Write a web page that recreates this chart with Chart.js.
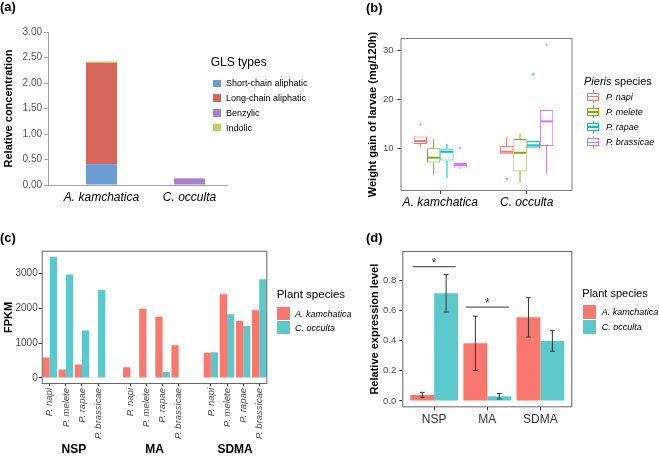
<!DOCTYPE html>
<html>
<head>
<meta charset="utf-8">
<title>Glucosinolates and Pieris larvae</title>
<script src="https://cdn.jsdelivr.net/npm/chart.js@4.4.1/dist/chart.umd.min.js"></script>
<style>
  html, body { margin: 0; padding: 0; background: #fff; }
  #page { position: relative; width: 659px; height: 456px; overflow: hidden; font-family: "Liberation Sans", Arial, sans-serif; color: #000; }
  #page canvas { position: absolute; left: 0; top: 0; }
  .txt { position: absolute; white-space: nowrap; line-height: 1.15; transform: translateY(-50%); }
  .shape { position: absolute; box-sizing: border-box; }
</style>
</head>
<body>
<div id="page">
  <canvas id="chartA" width="659" height="456"></canvas>
  <canvas id="chartB" width="659" height="456"></canvas>
  <canvas id="chartC" width="659" height="456"></canvas>
  <canvas id="chartD" width="659" height="456"></canvas>
</div>
<script>
// --- Data ---
const plants = ['A. kamchatica', 'C. occulta'];

// (a) glucosinolate content
const glsTypes = ['Short-chain aliphatic', 'Long-chain aliphatic', 'Benzylic', 'Indolic'];
const shortChain = [0.41, 0];
const longChain = [1.98, 0];
const benzylic = [0, 0.13];
const indolic = [0.03, 0];
const glsTicks = [0, 0.5, 1, 1.5, 2, 2.5, 3];

// (b) larval weight gain, [min, q1, median, q3, max] per plant
const pieris = ['P. napi', 'P. melete', 'P. rapae', 'P. brassicae'];
const napiBox = [[10.3, 11.0, 11.6, 12.5, 12.5], [8.9, 8.9, 9.4, 10.6, 12.4]];
const meleteBox = [[4.8, 7.2, 8.2, 10.1, 12.0], [3.1, 5.4, 9.2, 12.0, 13.1]];
const rapaeBox = [[4.0, 7.6, 9.4, 10.0, 11.0], [10.1, 10.1, 10.7, 11.6, 11.6]];
const brassicaeBox = [[5.9, 6.2, 6.7, 7.1, 7.2], [4.9, 10.6, 15.6, 17.9, 17.9]];
const napiOut = [[14.9], [3.9]];
const meleteOut = [[], []];
const rapaeOut = [[], [25.2]];
const brassicaeOut = [[10.1], [31.2]];
const weightTicks = [10, 20, 30];

// (c) FPKM of each gene in the four Pieris species
const genes = ['NSP', 'MA', 'SDMA'];
const nspAkam = [587, 240, 385, 20];
const nspCocc = [3481, 2971, 1365, 2529];
const maAkam = [308, 1990, 1760, 942];
const maCocc = [0, 0, 173, 0];
const sdmaAkam = [721, 2404, 1635, 1942];
const sdmaCocc = [740, 1827, 1490, 2837];
const fpkmTicks = [0, 1000, 2000, 3000];

// (d) relative expression level, mean and error
const relAkam = [0.04, 0.381, 0.553];
const relAkamErr = [0.017, 0.18, 0.13];
const relCocc = [0.712, 0.031, 0.397];
const relCoccErr = [0.124, 0.018, 0.068];
const sigGenes = ['NSP', 'MA'];
const sigLevels = [0.888, 0.621];
const relTicks = [0, 0.2, 0.4, 0.6, 0.8];

// --- Styles ---
const FONT = '"Liberation Sans", Arial, sans-serif';
const glsColors = ['#6b9dd2', '#d6665c', '#a680cc', '#bdd062'];
const pierisColors = ['#F8766D', '#7CAE00', '#00BFC4', '#C77CFF'];
const plantColors = ['#f8786f', '#5bc8cc'];
Chart.defaults.font.family = FONT;

// --- Helpers ---
function baseOptions(padding) {
    return {
        responsive: false,
        animation: false,
        events: [],
        layout: { padding },
        plugins: { legend: { display: false }, tooltip: { enabled: false } },
    };
}
const setTicks = values => axis => { axis.ticks = values.map(value => ({ value })); };
const fixWidth = w => axis => { axis.width = w; };
const fixHeight = h => axis => { axis.height = h; };

// draws a full box round the plotting area (ggplot panel border)
const framePlugin = color => ({
    id: 'frame',
    afterDatasetsDraw(chart) {
        const { ctx, chartArea: a } = chart;
        ctx.save();
        ctx.strokeStyle = color;
        ctx.lineWidth = 1;
        ctx.strokeRect(a.left + 0.5, a.top + 0.5, a.right - a.left - 1, a.bottom - a.top - 1);
        ctx.restore();
    }
});

// --- (a) stacked bars ---
const glsValues = [shortChain, longChain, benzylic, indolic];
new Chart(document.getElementById('chartA'), {
    type: 'bar',
    data: {
        datasets: glsTypes.map((name, k) => ({
            label: name,
            data: plants.map((p, i) => ({ x: i + 1, y: glsValues[k][i] || null })),
            backgroundColor: glsColors[k],
            categoryPercentage: 1,
            barPercentage: 0.352,
        })),
    },
    options: {
        ...baseOptions({ left: 0, top: 32, right: 432, bottom: 246 }),
        scales: {
            x: {
                type: 'linear', stacked: true, min: 0.392, max: 2.426, offset: false,
                afterBuildTicks: setTicks([1, 2]),
                afterFit: fixHeight(25),
                grid: { drawOnChartArea: false, drawTicks: false, offset: false },
                border: { color: '#a6a6a6' },
                ticks: { callback: (v, i) => plants[i], autoSkip: false, maxRotation: 0, padding: 5,
                         color: '#000', font: { size: 12, style: 'italic' } },
            },
            y: {
                stacked: true, min: 0, max: 3,
                afterBuildTicks: setTicks(glsTicks),
                afterFit: fixWidth(48),
                grid: { drawOnChartArea: false, tickLength: 4, color: '#a6a6a6' },
                border: { color: '#a6a6a6' },
                ticks: { callback: v => v.toFixed(2), padding: 2, color: '#595959', font: { size: 10 } },
                title: { display: true, text: 'Relative concentration', color: '#000',
                         padding: { top: 2, bottom: 0 }, font: { size: 11, weight: 'bold' } },
            },
        },
    },
});

// --- (b) box plots: boxes are floating bars, whiskers drawn on the same scales ---
const boxStats = [napiBox, meleteBox, rapaeBox, brassicaeBox];
const boxOutliers = [napiOut, meleteOut, rapaeOut, brassicaeOut];
const boxPlugin = {
    id: 'boxWhiskers',
    afterDatasetsDraw(chart) {
        const { ctx, scales: { y } } = chart;
        ctx.save();
        boxStats.forEach((stats, k) => {
            ctx.strokeStyle = pierisColors[k];
            ctx.fillStyle = pierisColors[k];
            chart.getDatasetMeta(k).data.forEach((bar, i) => {
                const [lo, q1, med, q3, hi] = stats[i];
                const half = bar.width / 2;
                ctx.lineWidth = 1;
                ctx.beginPath();
                ctx.moveTo(bar.x, y.getPixelForValue(q3));
                ctx.lineTo(bar.x, y.getPixelForValue(hi));
                ctx.moveTo(bar.x, y.getPixelForValue(q1));
                ctx.lineTo(bar.x, y.getPixelForValue(lo));
                ctx.stroke();
                ctx.lineWidth = 2;
                ctx.beginPath();
                ctx.moveTo(bar.x - half + 0.5, y.getPixelForValue(med));
                ctx.lineTo(bar.x + half - 0.5, y.getPixelForValue(med));
                ctx.stroke();
                boxOutliers[k][i].forEach(v => {
                    ctx.beginPath();
                    ctx.arc(bar.x, y.getPixelForValue(v), 1, 0, Math.PI * 2);
                    ctx.fill();
                });
            });
        });
        ctx.restore();
    }
};

new Chart(document.getElementById('chartB'), {
    type: 'bar',
    data: {
        datasets: pieris.map((name, k) => ({
            label: name,
            data: plants.map((p, i) => ({ x: i + 1, y: [boxStats[k][i][1], boxStats[k][i][3]] })),
            backgroundColor: '#fff',
            borderColor: pierisColors[k],
            borderWidth: 1,
            borderSkipped: false,
            categoryPercentage: 0.615,
            barPercentage: 1,
        })),
    },
    options: {
        ...baseOptions({ left: 365, top: 38, right: 86.5, bottom: 240 }),
        scales: {
            x: {
                type: 'linear', min: 0.539, max: 2.531, offset: false,
                afterBuildTicks: setTicks([1, 2]),
                afterFit: fixHeight(25),
                grid: { drawOnChartArea: false, tickLength: 3, color: '#333', offset: false },
                border: { display: false },
                ticks: { callback: (v, i) => plants[i], autoSkip: false, maxRotation: 0, padding: 1,
                         color: '#000', font: { size: 12, style: 'italic' } },
            },
            y: {
                min: 1.4, max: 32.6,
                afterBuildTicks: setTicks(weightTicks),
                afterFit: fixWidth(35.5),
                grid: { drawOnChartArea: false, tickLength: 3, color: '#333' },
                border: { display: false },
                ticks: { padding: 4, color: '#4d4d4d', font: { size: 9.5 } },
                title: { display: true, text: 'Weight gain of larvae (mg/120h)', color: '#000',
                         padding: { top: 1.7, bottom: 0 }, font: { size: 11, weight: 'bold' } },
            },
        },
    },
    plugins: [boxPlugin, framePlugin('#7f7f7f')],
});

// --- (c) grouped bars, one empty slot between genes ---
const fpkmLabels = genes.flatMap((g, gi) => gi ? ['', ...pieris] : pieris);
const withGaps = groups => groups.flatMap((vals, gi) => gi ? [null, ...vals] : vals);
const fpkmAkam = withGaps([nspAkam, maAkam, sdmaAkam]);
const fpkmCocc = withGaps([nspCocc, maCocc, sdmaCocc]);

const geneLabelPlugin = {
    id: 'geneLabels',
    afterDraw(chart) {
        const { ctx, chartArea, scales: { x } } = chart;
        ctx.save();
        ctx.font = 'bold 12px ' + FONT;
        ctx.fillStyle = '#000';
        ctx.textAlign = 'center';
        ctx.textBaseline = 'middle';
        genes.forEach((g, gi) => {
            const first = gi * (pieris.length + 1);
            const cx = (x.getPixelForValue(first) + x.getPixelForValue(first + pieris.length - 1)) / 2;
            ctx.fillText(g, cx, chartArea.bottom + 66);
        });
        ctx.restore();
    }
};

new Chart(document.getElementById('chartC'), {
    type: 'bar',
    data: {
        labels: fpkmLabels,
        datasets: [
            { label: plants[0], data: fpkmAkam, backgroundColor: plantColors[0] },
            { label: plants[1], data: fpkmCocc, backgroundColor: plantColors[1] },
        ],
    },
    options: {
        ...baseOptions({ left: 0, top: 250.7, right: 391.7, bottom: 12 }),
        datasets: { bar: { categoryPercentage: 0.9, barPercentage: 1 } },
        scales: {
            x: {
                afterFit: fixHeight(60),
                grid: { drawOnChartArea: false, tickLength: 2, offset: false,
                        tickColor: c => (c.tick && c.tick.label === '') ? 'rgba(0,0,0,0)' : '#333' },
                border: { display: false },
                ticks: { autoSkip: false, minRotation: 90, maxRotation: 90, padding: 2,
                         color: '#4d4d4d', font: { size: 9.5, style: 'italic' } },
            },
            y: {
                min: -174, max: 3655,
                afterBuildTicks: setTicks(fpkmTicks),
                afterFit: fixWidth(41.7),
                grid: { drawOnChartArea: false, tickLength: 3, color: '#333' },
                border: { display: false },
                ticks: { callback: v => String(v), padding: 1, color: '#4d4d4d', font: { size: 10 } },
                title: { display: true, text: 'FPKM', color: '#000',
                         padding: { top: 2.7, bottom: 0 }, font: { size: 11, weight: 'bold' } },
            },
        },
    },
    plugins: [geneLabelPlugin, framePlugin('#666')],
});

// --- (d) grouped bars with error bars and significance marks ---
const relMeans = [relAkam, relCocc];
const relErrs = [relAkamErr, relCoccErr];
const errorPlugin = {
    id: 'errorBars',
    afterDatasetsDraw(chart) {
        const { ctx, scales: { x, y } } = chart;
        ctx.save();
        ctx.strokeStyle = '#333';
        ctx.lineWidth = 1;
        relMeans.forEach((means, k) => {
            chart.getDatasetMeta(k).data.forEach((bar, i) => {
                const top = y.getPixelForValue(means[i] + relErrs[k][i]);
                const bot = y.getPixelForValue(means[i] - relErrs[k][i]);
                ctx.beginPath();
                ctx.moveTo(bar.x, top); ctx.lineTo(bar.x, bot);
                ctx.moveTo(bar.x - 2.4, top); ctx.lineTo(bar.x + 2.4, top);
                ctx.moveTo(bar.x - 2.4, bot); ctx.lineTo(bar.x + 2.4, bot);
                ctx.stroke();
            });
        });
        ctx.fillStyle = '#333';
        ctx.font = '12px ' + FONT;
        ctx.textAlign = 'center';
        ctx.textBaseline = 'middle';
        sigGenes.forEach((g, n) => {
            const pos = genes.indexOf(g) + 1;
            const yy = y.getPixelForValue(sigLevels[n]);
            ctx.beginPath();
            ctx.moveTo(x.getPixelForValue(pos - 0.405), yy);
            ctx.lineTo(x.getPixelForValue(pos + 0.405), yy);
            ctx.stroke();
            ctx.fillText('*', x.getPixelForValue(pos), yy - 3);
        });
        ctx.restore();
    }
};

new Chart(document.getElementById('chartD'), {
    type: 'bar',
    data: {
        datasets: plants.map((name, k) => ({
            label: name,
            data: genes.map((g, i) => ({ x: i + 1, y: relMeans[k][i] })),
            backgroundColor: plantColors[k],
            categoryPercentage: 0.9,
            barPercentage: 1,
        })),
    },
    options: {
        ...baseOptions({ left: 367, top: 251, right: 86.7, bottom: 23.7 }),
        scales: {
            x: {
                type: 'linear', min: 0.4, max: 3.6, offset: false,
                afterBuildTicks: setTicks([1, 2, 3]),
                afterFit: fixHeight(25),
                grid: { drawOnChartArea: false, tickLength: 3, color: '#333', offset: false },
                border: { display: false },
                ticks: { callback: (v, i) => genes[i], autoSkip: false, maxRotation: 0, padding: 2,
                         color: '#333', font: { size: 12 } },
            },
            y: {
                min: -0.042, max: 0.992,
                afterBuildTicks: setTicks(relTicks),
                afterFit: fixWidth(35.3),
                grid: { drawOnChartArea: false, tickLength: 3, color: '#333' },
                border: { display: false },
                ticks: { callback: v => v.toFixed(1), padding: 3, color: '#4d4d4d', font: { size: 9.5 } },
                title: { display: true, text: 'Relative expression level', color: '#000',
                         padding: { top: 1.4, bottom: 0 }, font: { size: 11, weight: 'bold' } },
            },
        },
    },
    plugins: [errorPlugin, framePlugin('#666')],
});

// --- Panel tags and legends (HTML text) ---
const page = document.getElementById('page');
function addText(text, x, y, css) {
    const el = document.createElement('div');
    el.className = 'txt';
    el.textContent = text;
    Object.assign(el.style, { left: x + 'px', top: y + 'px' }, css || {});
    page.appendChild(el);
    return el;
}
function addShape(x, y, w, h, css) {
    const el = document.createElement('div');
    el.className = 'shape';
    Object.assign(el.style, { left: x + 'px', top: y + 'px', width: w + 'px', height: h + 'px' }, css || {});
    page.appendChild(el);
    return el;
}

const tagStyle = { fontSize: '13px', fontWeight: 'bold' };
addText('(a)', 0, 7, tagStyle);
addText('(b)', 366, 8, tagStyle);
addText('(c)', 0, 237.5, tagStyle);
addText('(d)', 366, 237.5, tagStyle);

// (a) legend
addText('GLS types', 210.7, 63, { fontSize: '12px' });
glsTypes.forEach((t, k) => {
    const cy = 83.3 + k * 14.8;
    addShape(213.3, cy - 3.7, 7.4, 7.4, { background: glsColors[k] });
    addText(t, 226, cy, { fontSize: '9px' });
});

// (b) legend
const bTitle = addText('', 584, 80.7, { fontSize: '11px' });
bTitle.innerHTML = '<i>Pieris</i> species';
pieris.forEach((t, k) => {
    const cy = 96.7 + k * 15.2;
    addShape(593, cy - 6.5, 1, 13, { background: pierisColors[k] });
    addShape(587.3, cy - 4, 12, 8, { background: '#fff', border: '1px solid ' + pierisColors[k] });
    addShape(587.3, cy - 0.75, 12, 1.5, { background: pierisColors[k] });
    addText(t, 606, cy, { fontSize: '9px', fontStyle: 'italic' });
});

// (c) legend
addText('Plant species', 276.7, 295, { fontSize: '11.5px' });
plants.forEach((t, k) => {
    const cy = 313.5 + k * 14;
    addShape(277.3, cy - 6.5, 13, 13, { background: plantColors[k] });
    addText(t, 295, cy, { fontSize: '9px', fontStyle: 'italic' });
});

// (d) legend
addText('Plant species', 582.3, 293.3, { fontSize: '11px' });
plants.forEach((t, k) => {
    const cy = 312.3 + k * 14.7;
    addShape(583.3, cy - 7, 12.4, 14, { background: plantColors[k] });
    addText(t, 601.7, cy, { fontSize: '9px', fontStyle: 'italic' });
});
</script>
</body>
</html>
